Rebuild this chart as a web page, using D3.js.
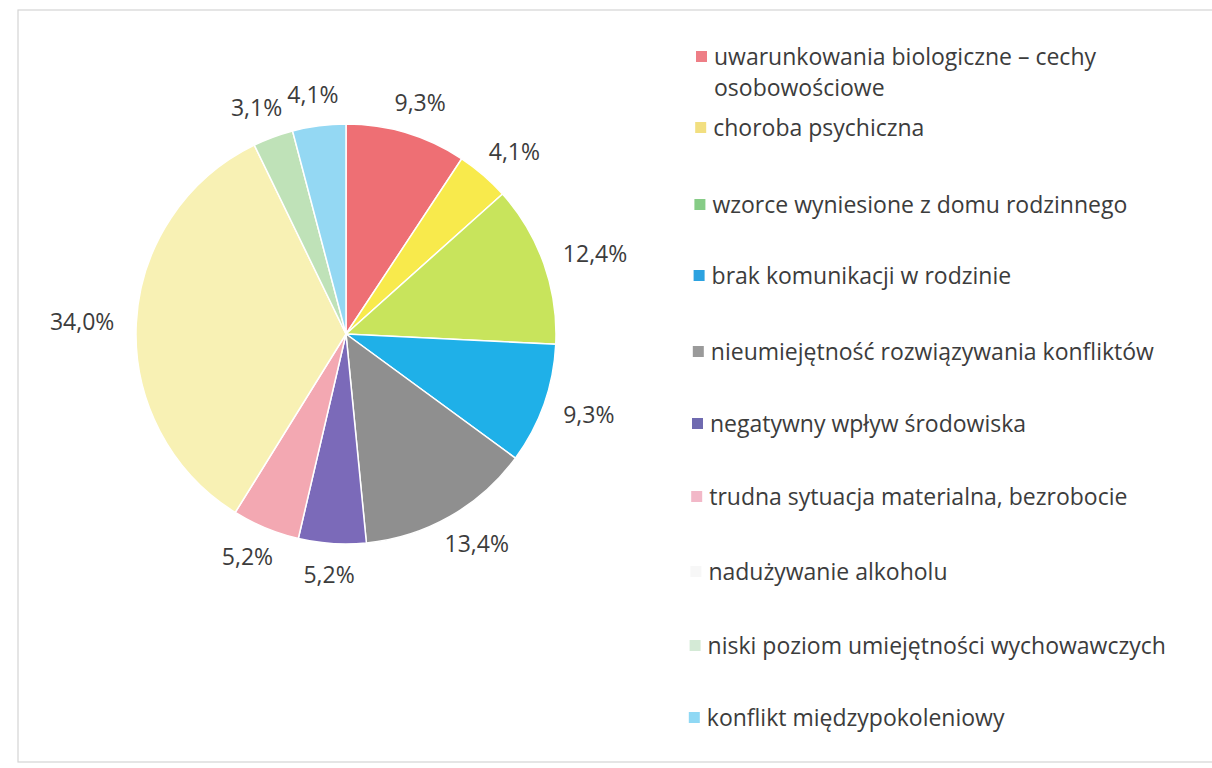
<!DOCTYPE html>
<html>
<head>
<meta charset="utf-8">
<script src="https://cdn.jsdelivr.net/npm/d3@7"></script>
<style>
  html, body { margin: 0; padding: 0; background: #fff; }
  svg { display: block; }
  text { font-family: "Open Sans", sans-serif; fill: #3c3c3c; }
</style>
</head>
<body>
<svg id="chart" width="1212" height="768"></svg>
<script>
// categories (clockwise from 12 o'clock, same order as legend)
const categories = [
  'uwarunkowania biologiczne – cechy osobowościowe',
  'choroba psychiczna',
  'wzorce wyniesione z domu rodzinnego',
  'brak komunikacji w rodzinie',
  'nieumiejętność rozwiązywania konfliktów',
  'negatywny wpływ środowiska',
  'trudna sytuacja materialna, bezrobocie',
  'nadużywanie alkoholu',
  'niski poziom umiejętności wychowawczych',
  'konflikt międzypokoleniowy'
];
// legend text split into lines
const legendLines = [
  ['uwarunkowania biologiczne – cechy', 'osobowościowe'],
  ['choroba psychiczna'],
  ['wzorce wyniesione z domu rodzinnego'],
  ['brak komunikacji w rodzinie'],
  ['nieumiejętność rozwiązywania konfliktów'],
  ['negatywny wpływ środowiska'],
  ['trudna sytuacja materialna, bezrobocie'],
  ['nadużywanie alkoholu'],
  ['niski poziom umiejętności wychowawczych'],
  ['konflikt międzypokoleniowy']
];
const values = [9.3, 4.1, 12.4, 9.3, 13.4, 5.2, 5.2, 34.0, 3.1, 4.1];
const sliceColors = ['#ee6f74', '#f8ea4c', '#c8e45c', '#1fb0e8', '#8f8f8f',
                     '#7b6ab9', '#f3a8b2', '#f8f1b4', '#bfe2b8', '#94d8f3'];
const swatchColors = ['#ee7e86', '#f2df80', '#86cc86', '#2ca2e0', '#9a9a9a',
                      '#6f6ab0', '#f2b8c8', '#f7f7f7', '#d4ead6', '#8fd8f4'];

const svg = d3.select('#chart');

// faint scan frame
svg.append('rect')
  .attr('x', 18).attr('y', 10)
  .attr('width', 1230).attr('height', 752)
  .attr('fill', 'none')
  .attr('stroke', '#d4d4d4')
  .attr('stroke-width', 1.2);

const cx = 346, cy = 334, radius = 210;

const pie = d3.pie().sort(null).value(d => d);
const arc = d3.arc().innerRadius(0).outerRadius(radius);

const g = svg.append('g').attr('transform', `translate(${cx},${cy})`);
const arcs = pie(values);

g.selectAll('path.slice')
  .data(arcs)
  .enter().append('path')
  .attr('class', 'slice')
  .attr('d', arc)
  .attr('fill', (d, i) => sliceColors[i])
  .attr('stroke', '#fff')
  .attr('stroke-width', 1.5);

// percentage labels outside the pie
const fmt = v => d3.format('.1f')(v).replace('.', ',') + '%';
const labelGap = 22;
const labelSize = 23;
g.selectAll('text.pct')
  .data(arcs)
  .enter().append('text')
  .attr('class', 'pct')
  .attr('font-size', labelSize)
  .attr('text-anchor', 'middle')
  .attr('dy', '0.35em')
  .text(d => fmt(d.data))
  .each(function (d) {
    const a = (d.startAngle + d.endAngle) / 2;
    const w = this.getComputedTextLength();
    const h = labelSize * 0.8;
    const x = Math.sin(a) * (radius + labelGap) + Math.sin(a) * w / 2;
    const y = -Math.cos(a) * (radius + labelGap) - Math.cos(a) * h / 2;
    d3.select(this).attr('x', x).attr('y', y);
  });

// legend
const legendY = [57, 128, 205, 276, 352, 424, 497, 572, 646, 718];
const legend = svg.append('g');
const items = legend.selectAll('g.item')
  .data(categories)
  .enter().append('g')
  .attr('class', 'item')
  .attr('transform', (d, i) => `translate(${696 - i * 0.8},${legendY[i]})`);

items.append('rect')
  .attr('x', 0).attr('y', -6)
  .attr('width', 11).attr('height', 11)
  .attr('fill', (d, i) => swatchColors[i]);

items.each(function (d, i) {
  const t = d3.select(this).append('text')
    .attr('x', 18)
    .attr('font-size', 23);
  legendLines[i].forEach((line, j) => {
    t.append('tspan').attr('x', 18).attr('dy', j === 0 ? '0.35em' : 31).text(line);
  });
});
</script>
</body>
</html>
